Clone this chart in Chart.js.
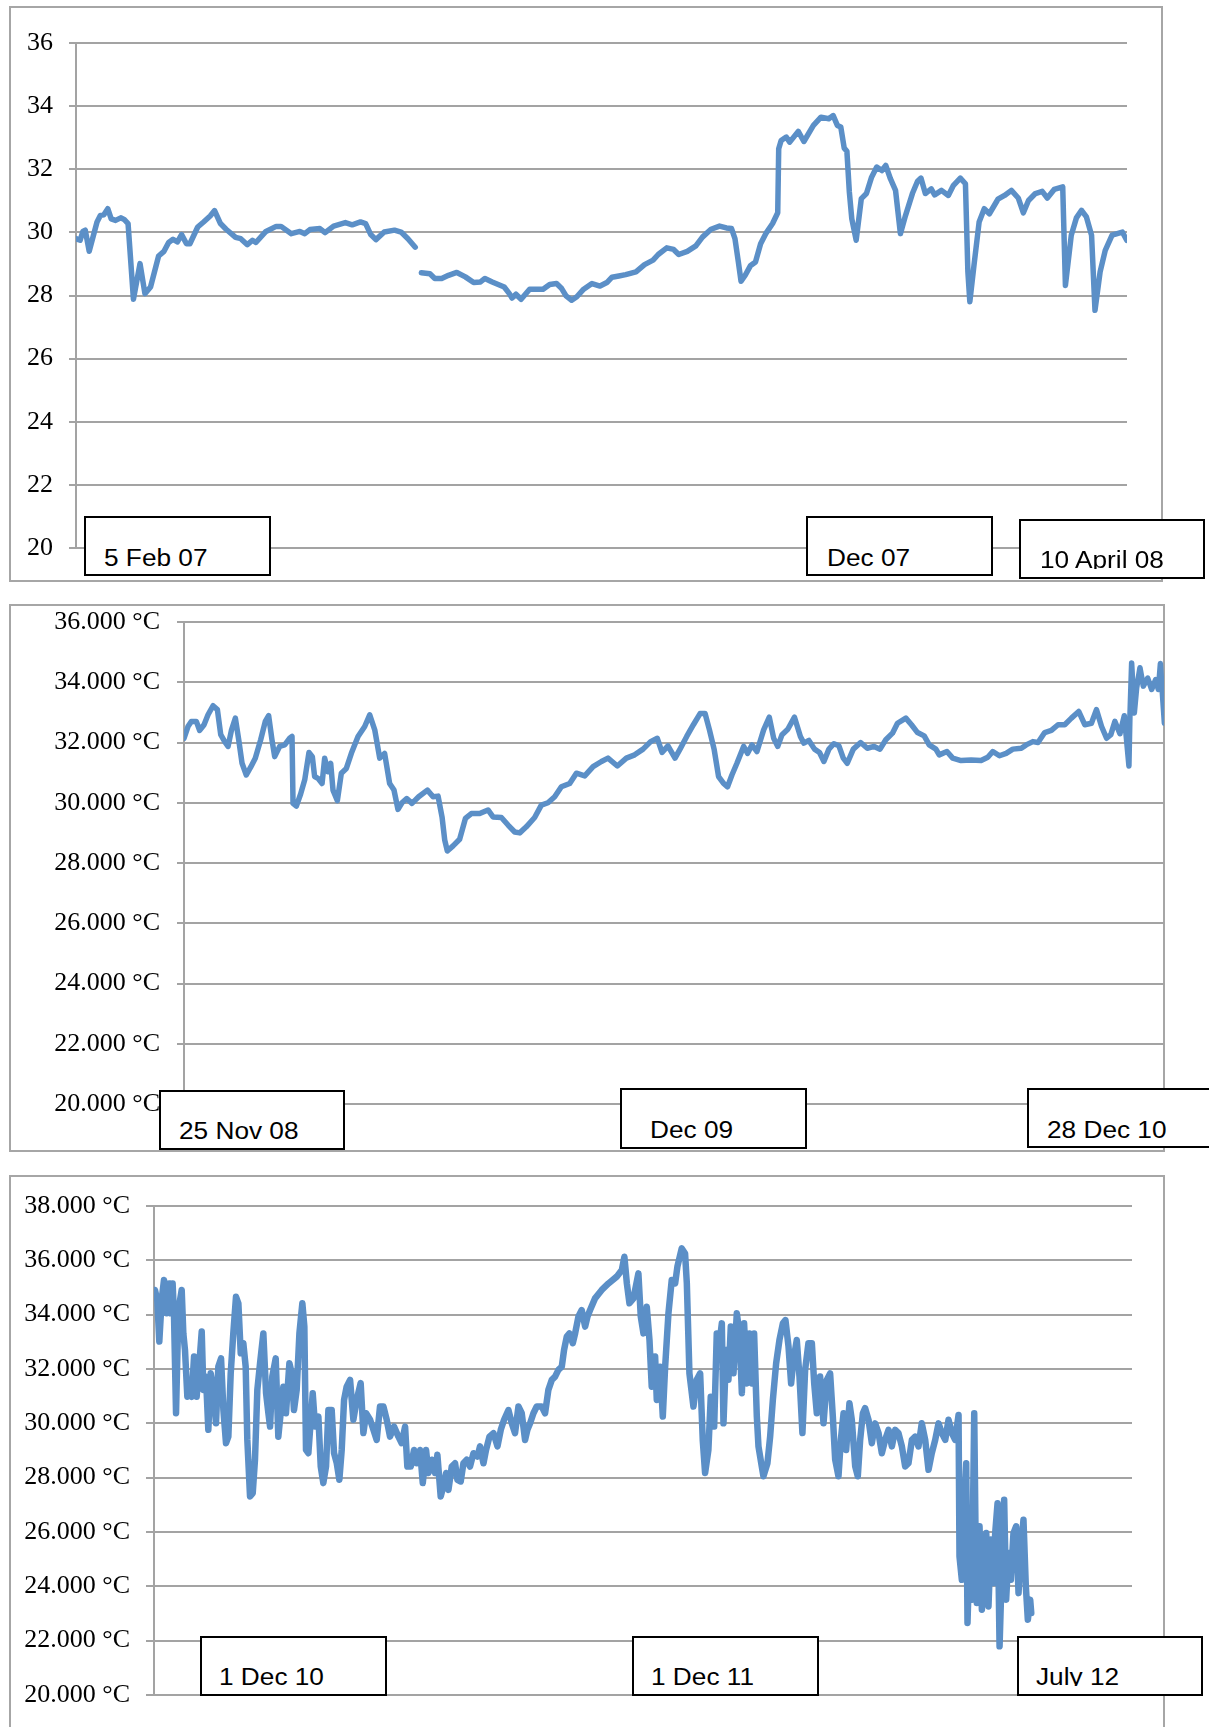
<!DOCTYPE html>
<html>
<head>
<meta charset="utf-8">
<script src="https://cdn.jsdelivr.net/npm/chart.js@4.4.1/dist/chart.umd.min.js"></script>
<style>
  html, body { margin: 0; padding: 0; background: #fff; }
  body { width: 1209px; height: 1727px; position: relative; overflow: hidden; }
  .frame { position: absolute; border: 2px solid #a6a6a6; box-sizing: border-box; }
  canvas { position: absolute; left: 0; }
  .tag { position: absolute; border: 2px solid #000; background: #fff; box-sizing: border-box; overflow: hidden; }
  .tag span { position: absolute; font-family: 'Liberation Sans', Arial, sans-serif; font-size: 23px;
              line-height: 23px; height: 20.5px; overflow: hidden; white-space: nowrap; color: #000;
              transform: scaleX(1.14); transform-origin: 0 0; }
</style>
</head>
<body>
<div class="frame" style="left:9px; top:6px; width:1154px; height:576px"></div>
<div class="frame" style="left:9px; top:604px; width:1156px; height:548px"></div>
<div class="frame" style="left:9px; top:1175px; width:1156px; height:600px"></div>

<canvas id="c1" width="1209" height="600" style="top:0px"></canvas>
<canvas id="c2" width="1209" height="600" style="top:560px"></canvas>
<canvas id="c3" width="1209" height="587" style="top:1140px"></canvas>

<script>
// ---- data: day offset from start of each record, temperature in °C ----

// 5 Feb 07 -> 10 April 08 (null = break in the record)
const p1Days = [0, 1.7, 2.8, 3.8, 5.4, 8.6, 10.0, 11.4, 13.0, 14.4, 16.2, 18.3, 19.7, 21.3, 23.5, 26.2, 28.2, 30.5,
  33.8, 36.0, 37.9, 39.7, 41.5, 43.2, 45.2, 46.6, 49.8, 52.2, 54.9, 56.7, 59.1, 61.4, 65.3, 67.4, 70.1, 72.2, 73.6,
  77.7, 81.9, 83.9, 88.1, 91.6, 93.6, 95.7, 99.8, 101.9, 105.4, 110.2, 113.0, 116.4, 118.5, 120.6, 122.7, 126.1,
  130.3, 133.0, 135.8, 138.8, 140,
  141.3, 144.8, 146.8, 149.6, 152.4, 155.8, 159.3, 162.7, 165.5, 167.3, 170.3, 175.2, 177.3, 178.4, 180.0, 182.1,
  185.6, 188.3, 191.1, 193.8, 196.6, 198.7, 200.5, 202.8, 204.9, 207.7, 211.1, 214.4, 217.2, 219.3, 222.1, 224.9,
  229.1, 232.6, 236.1, 238.2, 241.7, 244.5, 246.6, 250.1, 253.6, 256.3, 259.8, 263.3, 266.1, 268.2, 269.6, 271.0,
  272.1, 273.8, 275.9, 278.0, 280.1, 282.2, 285.0, 287.1, 287.5, 288.5, 290.6, 292.0, 295.5, 297.8, 301.7, 304.8,
  308.0, 309.8, 311.5, 312.9, 314.3, 315.4, 316.4, 317.4, 319.2, 321.3, 323.4, 325.5, 327.6, 329.7, 331.3, 333.2,
  335.3, 337.3, 339.4, 342.2, 344.3, 345.7, 347.5, 349.9, 351.3, 354.1, 356.9, 359.0, 361.8, 363.9, 364.9, 365.7,
  367.4, 369.5, 371.6, 373.7, 377.2, 379.9, 382.7, 385.5, 387.6, 389.7, 392.5, 395.3, 397.4, 400.2, 403.7, 404.8,
  407.2, 409.3, 411.4, 413.4, 415.5, 416.9, 419.0, 421.1, 423.9, 426.0, 428.1, 429.9];
const p1Temps = [29.80, 29.75, 30.03, 30.07, 29.40, 30.33, 30.54, 30.56, 30.75, 30.43, 30.38, 30.46, 30.41, 30.28,
  27.88, 29.01, 28.06, 28.27, 29.25, 29.40, 29.68, 29.78, 29.70, 29.93, 29.64, 29.64, 30.17, 30.33, 30.52, 30.69,
  30.28, 30.10, 29.84, 29.80, 29.61, 29.75, 29.68, 30.03, 30.19, 30.19, 29.96, 30.03, 29.96, 30.09, 30.12, 29.99,
  30.20, 30.31, 30.24, 30.33, 30.28, 29.93, 29.77, 30.01, 30.07, 30.01, 29.80, 29.53, null,
  28.72, 28.69, 28.54, 28.54, 28.64, 28.73, 28.59, 28.41, 28.43, 28.54, 28.43, 28.27, 28.06, 27.92, 28.04, 27.88,
  28.20, 28.20, 28.20, 28.35, 28.38, 28.22, 27.99, 27.85, 27.96, 28.20, 28.38, 28.30, 28.41, 28.58, 28.62, 28.66,
  28.75, 28.98, 29.12, 29.30, 29.51, 29.46, 29.30, 29.40, 29.57, 29.85, 30.10, 30.20, 30.14, 30.12, 29.80, 29.06,
  28.45, 28.64, 28.94, 29.06, 29.64, 29.96, 30.28, 30.62, 32.65, 32.91, 33.02, 32.86, 33.20, 32.88, 33.39, 33.65,
  33.60, 33.70, 33.39, 33.34, 32.67, 32.57, 31.28, 30.43, 29.75, 31.07, 31.23, 31.75, 32.07, 31.96, 32.12, 31.70,
  31.33, 29.96, 30.54, 31.23, 31.62, 31.72, 31.23, 31.38, 31.19, 31.33, 31.17, 31.49, 31.72, 31.54, 28.75, 27.80,
  28.96, 30.33, 30.75, 30.59, 31.05, 31.17, 31.33, 31.09, 30.62, 31.01, 31.23, 31.30, 31.09, 31.36, 31.44, 28.32,
  29.91, 30.46, 30.70, 30.49, 29.91, 27.53, 28.75, 29.43, 29.91, 29.96, 30.01, 29.75];

// 25 Nov 08 -> 28 Dec 10
const p2Days = [0, 3.1, 5.7, 9.6, 12.2, 15.6, 18.7, 22.6, 26.0, 28.6, 31.7, 34.3, 36.9, 40.0, 42.6, 45.2, 48.5, 51.9,
  55.5, 59.7, 63.3, 65.9, 68.5, 70.6, 74.5, 78.4, 82.3, 84.1, 84.9, 87.5, 90.8, 94.0, 97.3, 99.9, 101.7, 104.3, 107.5,
  109.5, 112.1, 114.2, 116.0, 119.4, 122.5, 126.4, 130.3, 135.5, 140.7, 144.6, 148.5, 152.4, 156.2, 160.1, 163.5,
  166.6, 169.7, 173.4, 177.5, 182.7, 189.5, 193.9, 197.8, 200.9, 203.0, 205.0, 209.5, 214.6, 219.1, 223.7, 230.2,
  236.7, 240.6, 247.1, 252.3, 257.5, 261.4, 266.5, 273.0, 278.2, 283.4, 288.6, 293.8, 300.3, 305.5, 312.0, 318.5,
  325.0, 330.1, 337.4, 344.4, 350.9, 357.4, 363.3, 368.5, 372.2, 376.8, 382.3, 386.2, 391.4, 396.6, 401.8, 405.7,
  409.1, 412.8, 416.2, 420.1, 423.2, 426.6, 430.5, 435.7, 438.8, 442.2, 446.1, 451.3, 455.7, 459.1, 462.3, 465.6,
  470.1, 475.3, 479.9, 482.6, 486.5, 490.9, 494.8, 498.2, 502.1, 506.0, 509.9, 513.3, 516.4, 521.1, 526.8, 532.0,
  537.3, 541.9, 546.4, 551.6, 555.5, 562.0, 566.4, 571.1, 576.3, 580.2, 585.4, 588.0, 594.0, 598.5, 605.0, 612.8,
  620.6, 625.8, 629.7, 634.9, 640.1, 645.3, 651.9, 655.7, 660.9, 664.9, 670.1, 675.3, 680.5, 685.7, 690.9, 696.6,
  701.3, 706.5, 710.4, 714.4, 718.3, 721.6, 724.8, 728.7, 732.1, 735.7, 736.5, 737.8, 739.9, 741.7, 744.3, 746.9,
  750.3, 753.4, 756.5, 758.6, 760.2, 761.7, 763.3];
const p2Temps = [32.14, 32.53, 32.70, 32.70, 32.40, 32.59, 32.92, 33.22, 33.09, 32.26, 32.03, 31.87, 32.40, 32.81,
  32.09, 31.31, 30.92, 31.18, 31.48, 32.09, 32.70, 32.89, 32.09, 31.53, 31.87, 31.92, 32.14, 32.20, 29.98, 29.89,
  30.29, 30.76, 31.67, 31.53, 30.87, 30.81, 30.64, 31.48, 31.03, 31.31, 30.42, 30.07, 30.98, 31.14, 31.64, 32.20,
  32.53, 32.92, 32.42, 31.48, 31.64, 30.64, 30.42, 29.78, 30.00, 30.14, 29.98, 30.20, 30.42, 30.20, 30.22, 29.53,
  28.76, 28.40, 28.57, 28.79, 29.48, 29.64, 29.64, 29.76, 29.53, 29.51, 29.26, 29.03, 29.00, 29.20, 29.51, 29.92,
  30.00, 30.20, 30.53, 30.64, 30.98, 30.89, 31.20, 31.37, 31.48, 31.22, 31.48, 31.59, 31.78, 32.03, 32.14, 31.67,
  31.89, 31.48, 31.78, 32.20, 32.59, 32.96, 32.96, 32.42, 31.76, 30.87, 30.64, 30.53, 30.92, 31.31, 31.87, 31.64,
  31.92, 31.70, 32.42, 32.84, 32.14, 31.87, 32.26, 32.44, 32.84, 32.20, 31.98, 32.07, 31.78, 31.67, 31.37, 31.78,
  31.96, 31.89, 31.48, 31.31, 31.78, 32.00, 31.81, 31.87, 31.78, 32.09, 32.31, 32.64, 32.81, 32.59, 32.33, 32.22,
  31.92, 31.78, 31.59, 31.70, 31.48, 31.40, 31.42, 31.40, 31.51, 31.70, 31.56, 31.64, 31.78, 31.81, 31.92, 32.03,
  32.00, 32.33, 32.40, 32.59, 32.59, 32.81, 33.03, 32.59, 32.64, 33.09, 32.53, 32.14, 32.26, 32.70, 32.29, 32.89,
  31.22, 32.92, 34.64, 32.98, 33.81, 34.48, 33.87, 34.14, 33.76, 34.09, 33.76, 34.62, 33.64, 32.64];

// 1 Dec 10 -> July 12
const p3Days = [0.8, 2.8, 4.5, 6.5, 8.5, 10.7, 13.0, 14.1, 15.8, 17.0, 18.7, 20.7, 23.5, 24.9, 26.3, 28.3, 30.0,
  32.0, 34.0, 36.2, 38.5, 40.5, 41.9, 44.1, 46.1, 48.1, 50.4, 52.6, 54.6, 56.9, 58.9, 61.1, 63.1, 65.1, 67.3, 69.6,
  71.6, 73.6, 75.8, 77.8, 79.2, 81.5, 83.8, 85.7, 87.7, 90.0, 92.8, 95.1, 97.1, 98.5, 100.4, 103.3, 105.5, 107.5,
  109.8, 112.0, 114.9, 116.9, 118.8, 121.1, 123.4, 125.9, 127.6, 129.0, 131.0, 134.7, 136.7, 139.5, 141.5, 143.7,
  146.0, 148.0, 150.8, 152.8, 155.1, 157.3, 159.3, 161.3, 163.5, 166.4, 169.2, 172.0, 175.4, 177.7, 180.0, 183.4,
  186.2, 189.0, 191.8, 194.7, 197.5, 200.3, 203.7, 207.4, 210.2, 213.1, 215.0, 217.9, 220.7, 223.0, 225.8, 228.1,
  230.9, 232.9, 235.7, 238.5, 240.5, 243.3, 245.6, 247.9, 249.9, 252.7, 255.5, 257.5, 260.3, 262.6, 265.4, 268.2,
  271.1, 274.5, 276.7, 279.6, 281.8, 284.7, 288.1, 291.5, 294.3, 297.1, 300.8, 303.6, 306.4, 309.3, 312.1, 314.9,
  316.9, 319.2, 322.0, 324.8, 329.1, 331.9, 334.7, 337.6, 340.4, 343.2, 346.1, 348.0, 350.3, 352.6, 355.4, 357.4,
  360.2, 363.0, 365.9, 367.9, 370.1, 374.3, 380.0, 385.7, 392.7, 397.0, 399.2, 401.3, 403.5, 406.9, 411.1, 413.1,
  415.4, 418.2, 420.5, 422.4, 425.3, 426.7, 429.5, 431.8, 433.8, 436.6, 439.4, 442.3, 444.2, 447.9, 450.7, 452.2,
  454.4, 457.8, 460.6, 463.5, 465.7, 467.7, 470.5, 472.5, 475.4, 477.6, 479.9, 481.9, 483.3, 485.6, 487.5, 489.5,
  491.8, 494.6, 496.9, 498.9, 500.8, 503.1, 505.4, 507.4, 509.3, 511.6, 513.0, 515.8, 517.2, 520.6, 522.9, 525.2,
  528.0, 530.8, 533.7, 535.9, 538.5, 540.7, 542.7, 545.5, 547.8, 550.3, 552.6, 555.4, 558.3, 560.3, 562.5, 565.3,
  568.2, 571.0, 573.8, 576.1, 578.1, 580.9, 582.9, 585.2, 587.4, 590.2, 592.2, 595.1, 597.3, 599.3, 601.6, 603.5,
  606.4, 609.2, 612.0, 614.9, 617.7, 620.5, 623.4, 626.2, 629.0, 631.8, 634.7, 637.5, 640.3, 643.2, 646.0, 648.8,
  651.6, 654.5, 657.3, 660.1, 663.0, 665.8, 668.6, 671.5, 674.3, 677.1, 679.9, 682.8, 683.6, 685.6, 687.6, 689.3,
  690.4, 692.1, 694.1, 696.1, 697.2, 698.3, 700.6, 702.6, 704.6, 706.3, 708.2, 710.2, 712.5, 713.9, 715.9, 717.6,
  719.6, 721.5, 723.2, 725.2, 727.2, 729.4, 731.7, 733.7, 735.7, 737.9, 739.9, 741.6, 743.6, 744.5];
const p3Temps = [34.91, 34.54, 33.01, 34.54, 35.28, 34.05, 35.15, 34.05, 35.15, 33.93, 30.37, 34.17, 34.91, 33.31,
  32.70, 30.98, 31.11, 30.98, 32.46, 30.98, 32.21, 33.38, 31.23, 31.72, 29.76, 31.84, 31.23, 30.00, 32.09, 32.39,
  30.49, 29.27, 29.51, 31.84, 33.31, 34.66, 34.42, 32.58, 32.95, 32.09, 29.39, 27.31, 27.43, 28.66, 31.23, 32.21,
  33.31, 31.11, 30.37, 29.88, 31.72, 32.39, 29.51, 30.37, 31.35, 30.37, 32.21, 31.84, 30.49, 31.23, 33.31, 34.42,
  33.56, 29.02, 28.90, 31.11, 29.88, 30.25, 28.41, 27.80, 28.41, 30.49, 30.49, 28.90, 28.53, 27.92, 29.02, 30.86,
  31.35, 31.60, 30.13, 30.86, 31.48, 29.64, 30.37, 30.13, 29.76, 29.39, 30.62, 30.62, 30.13, 29.51, 29.88, 29.51,
  29.27, 29.88, 28.41, 28.41, 29.02, 28.53, 29.02, 27.80, 29.02, 28.17, 28.66, 28.17, 28.84, 27.31, 27.68, 28.17,
  27.55, 28.41, 28.53, 27.92, 27.86, 28.53, 28.66, 28.41, 28.90, 28.78, 29.15, 28.53, 29.02, 29.51, 29.64, 29.15,
  29.76, 30.13, 30.49, 30.00, 29.64, 30.62, 30.37, 29.39, 29.76, 30.00, 30.37, 30.62, 30.62, 30.37, 31.23, 31.60,
  31.72, 31.97, 32.09, 32.70, 33.19, 33.31, 32.95, 33.31, 33.93, 34.17, 33.56, 33.93, 34.17, 34.60, 34.91, 35.15,
  35.40, 35.64, 36.13, 35.15, 34.42, 34.60, 35.52, 33.93, 33.31, 34.29, 33.07, 31.35, 32.46, 30.86, 32.08, 30.25,
  32.09, 34.05, 35.28, 35.15, 35.77, 36.44, 36.25, 35.15, 31.84, 30.62, 31.60, 31.84, 29.39, 28.17, 29.02, 30.98,
  29.88, 33.31, 32.95, 33.68, 30.00, 32.70, 31.60, 33.56, 31.84, 34.05, 33.31, 31.11, 33.68, 31.47, 33.31, 31.47,
  33.31, 30.25, 29.15, 28.41, 28.05, 28.53, 29.51, 30.86, 32.21, 33.07, 33.68, 33.80, 32.82, 31.47, 32.33, 33.07,
  31.72, 29.64, 31.97, 32.95, 32.95, 31.47, 30.37, 31.72, 30.00, 31.60, 31.84, 30.25, 28.66, 28.05, 29.39, 30.37,
  29.02, 30.74, 30.13, 28.41, 28.05, 29.39, 30.37, 30.56, 30.13, 29.27, 30.00, 29.64, 28.90, 29.39, 29.76, 29.15,
  29.76, 29.64, 29.15, 28.41, 28.53, 29.39, 29.51, 29.15, 30.00, 29.39, 28.29, 28.90, 29.39, 30.00, 29.64, 29.39,
  30.13, 29.64, 29.39, 30.31, 25.10, 24.24, 26.94, 28.53, 22.65, 25.23, 23.51, 30.37, 25.96, 23.39, 26.21, 23.14,
  25.35, 25.96, 23.26, 25.72, 24.12, 25.96, 27.06, 21.79, 24.74, 27.19, 23.51, 25.23, 24.24, 25.96, 26.21, 23.75,
  25.35, 26.45, 24.00, 22.77, 23.51, 23.02];

// y axis ticks
const p1Ticks = [20, 22, 24, 26, 28, 30, 32, 34, 36];
const p2Ticks = [20, 22, 24, 26, 28, 30, 32, 34, 36];
const p3Ticks = [20, 22, 24, 26, 28, 30, 32, 34, 36, 38];
const UNIT = ' °C';

// date labels in boxes under each chart
const p1Tags = ['5 Feb 07', 'Dec 07', '10 April 08'];
const p2Tags = ['25 Nov 08', 'Dec 09', '28 Dec 10'];
const p3Tags = ['1 Dec 10', '1 Dec 11', 'July 12'];

const BLUE = '#5b8fc7';
const GRID = '#a3a3a3';

function makeChart(id, days, temps, ticks, fmt, o)
{
    const points = days.map((d, i) => ({ x: d, y: temps[i] }));

    return new Chart(document.getElementById(id), {
        type: 'line',
        data: {
            datasets: [{
                data: points,
                borderColor: BLUE,
                borderWidth: o.lineWidth,
                borderJoinStyle: 'round',
                borderCapStyle: 'round',
                pointRadius: 0,
                tension: 0,
                spanGaps: false
            }]
        },
        options: {
            responsive: false,
            animation: false,
            events: [],
            layout: { padding: { left: 0, top: o.top, right: o.right, bottom: o.bottom } },
            plugins: { legend: { display: false }, tooltip: { enabled: false } },
            scales: {
                x: { type: 'linear', display: false, min: 0, max: o.span },
                y: {
                    min: ticks[0],
                    max: ticks[ticks.length - 1],
                    afterFit: s => { s.width = o.axisX; },
                    afterBuildTicks: s => { s.ticks = ticks.map(v => ({ value: v })); },
                    ticks: {
                        callback: fmt,
                        color: '#000',
                        padding: o.pad,
                        font: { family: "'Liberation Serif', 'Times New Roman', serif", size: 26 }
                    },
                    grid: { color: GRID, lineWidth: 2, tickLength: o.tick },
                    border: { color: GRID, width: 2 }
                }
            }
        }
    });
}

makeChart('c1', p1Days, p1Temps, p1Ticks, v => String(v),
    { lineWidth: 5.5, span: 430, top: 43, bottom: 52, right: 82, axisX: 76, pad: 16, tick: 7 });
makeChart('c2', p2Days, p2Temps, p2Ticks, v => v.toFixed(3) + UNIT,
    { lineWidth: 5.5, span: 763, top: 62, bottom: 56, right: 45, axisX: 184, pad: 17, tick: 7 });
makeChart('c3', p3Days, p3Temps, p3Ticks, v => v.toFixed(3) + UNIT,
    { lineWidth: 6.5, span: 830, top: 66, bottom: 32, right: 77, axisX: 154, pad: 16, tick: 8 });

// boxed date labels: [text, left, top, width, height, text left, text baseline]
const tagBoxes = [
    [p1Tags[0], 84, 516, 187, 60, 18, 48.4],
    [p1Tags[1], 806, 516, 187, 60, 19, 48.4],
    [p1Tags[2], 1019, 519, 186, 60, 19, 47.3],
    [p2Tags[0], 159, 1090, 186, 60, 18, 47.6],
    [p2Tags[1], 620, 1088, 187, 61, 28, 48],
    [p2Tags[2], 1027, 1088, 190, 60, 18, 48],
    [p3Tags[0], 200, 1636, 187, 60, 17, 47],
    [p3Tags[1], 632, 1636, 187, 60, 17, 47],
    [p3Tags[2], 1017, 1636, 186, 60, 17, 47]
];

tagBoxes.forEach(([text, x, y, w, h, tx, base]) =>
{
    const box = document.createElement('div');
    box.className = 'tag';
    box.style.cssText = `left:${x}px; top:${y}px; width:${w}px; height:${h}px`;
    const span = document.createElement('span');
    span.textContent = text;
    span.style.left = tx + 'px';
    span.style.top = (base - 19.5) + 'px';
    box.appendChild(span);
    document.body.appendChild(box);
});
</script>
</body>
</html>
